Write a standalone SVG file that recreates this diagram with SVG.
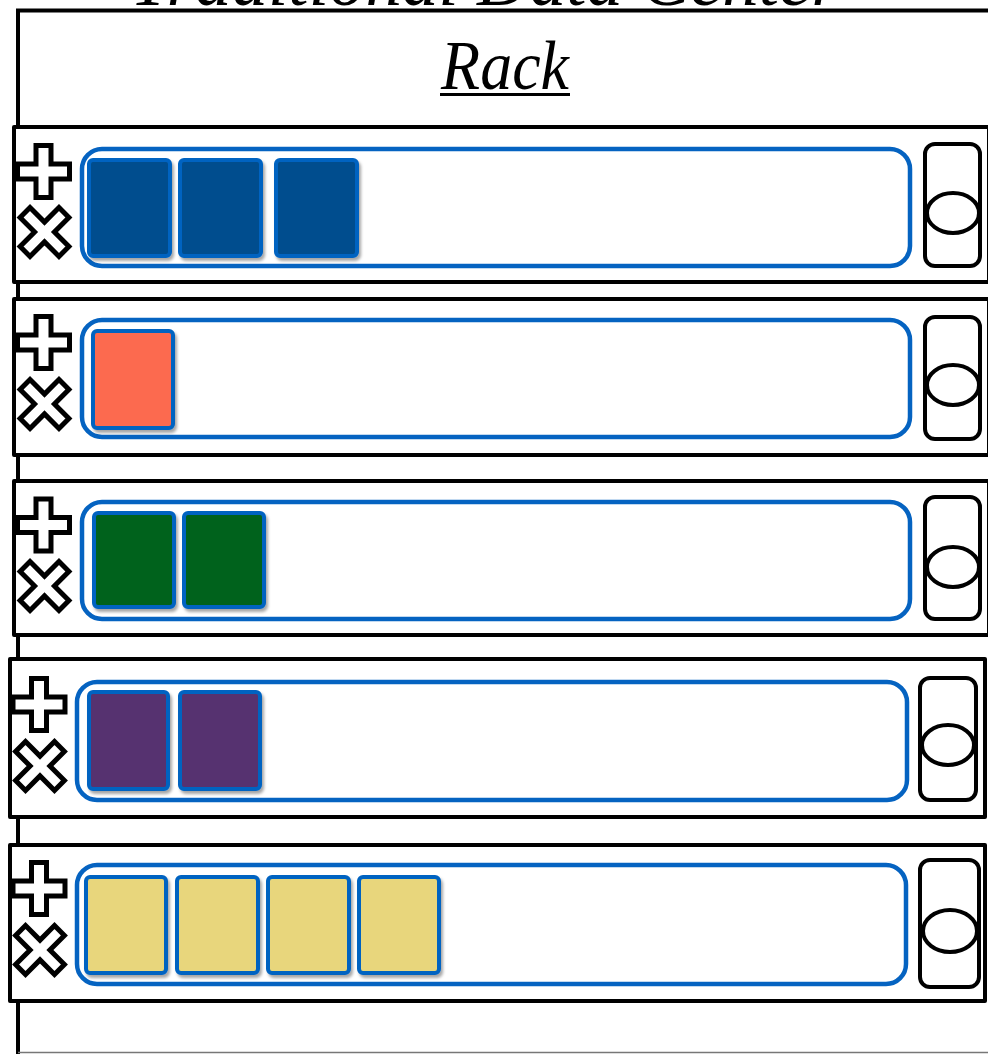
<svg xmlns="http://www.w3.org/2000/svg" width="988" height="1054" viewBox="0 0 988 1054">
<style>
.frame{fill:#fff;stroke:#000;stroke-width:4}
.unit{fill:#fff;stroke:#000;stroke-width:4;stroke-linejoin:round}
.icon{fill:#fff;stroke:#000;stroke-width:5;stroke-linejoin:miter}
.tray{fill:#fff;stroke:#0563C1;stroke-width:4.5}
.srv{stroke:#0563C1;stroke-width:4;filter:url(#sh)}
.handle{fill:#fff;stroke:#000;stroke-width:4}
.title{font-family:"Liberation Serif",serif;font-style:italic;fill:#000}
</style>
<defs>
<filter id="sh" x="-20%" y="-20%" width="140%" height="140%">
<feDropShadow dx="2" dy="3" stdDeviation="1.5" flood-color="#000" flood-opacity="0.35"/>
</filter>
<path id="plus" d="M-7.5,-26 H7.5 V-7.5 H26 V7.5 H7.5 V26 H-7.5 V7.5 H-26 V-7.5 H-7.5 Z"/>
<path id="cross" d="M-7,-27.5 H7 V-7 H27.5 V7 H7 V27.5 H-7 V7 H-27.5 V-7 H-7 Z" transform="rotate(45)"/>
</defs>
<rect width="988" height="1054" fill="#fff"/>
<g id="rack">
<rect class="frame" x="18" y="10.5" width="1000" height="1060"/>
<line x1="18" y1="1052.5" x2="988" y2="1052.5" stroke="#777" stroke-width="1.5"/>
<text class="title" x="485" y="5" font-size="73" text-anchor="middle">Traditional Data Center</text>
<text class="title" transform="translate(505,89) scale(1,1.08)" x="0" y="0" font-size="64" text-anchor="middle">Rack</text>
<line x1="440" y1="94.5" x2="570" y2="94.5" stroke="#000" stroke-width="3"/>
</g>
<g id="unit1" transform="translate(14,127)">
<rect class="unit" x="0" y="0" width="975" height="155"/>
<use href="#plus" class="icon" x="29.5" y="44.5"/>
<g transform="translate(30.5,105)"><use href="#cross" class="icon"/></g>
<rect class="tray" x="68" y="22" width="828" height="117" rx="20"/>
<rect class="srv" x="75" y="33" width="81" height="96" rx="4" fill="#044E8E"/>
<rect class="srv" x="166" y="33" width="81" height="96" rx="4" fill="#044E8E"/>
<rect class="srv" x="262" y="33" width="81" height="96" rx="4" fill="#044E8E"/>
<rect class="handle" x="911" y="17" width="55" height="122" rx="10"/>
<ellipse class="handle" cx="939" cy="86" rx="26" ry="20"/>
</g>
<g id="unit2" transform="translate(14,299)">
<rect class="unit" x="0" y="0" width="975" height="156"/>
<use href="#plus" class="icon" x="29.5" y="43.5"/>
<g transform="translate(30.5,105)"><use href="#cross" class="icon"/></g>
<rect class="tray" x="68" y="21" width="828" height="117" rx="20"/>
<rect class="srv" x="79" y="32" width="80" height="97" rx="4" fill="#FC6A4F"/>
<rect class="handle" x="911" y="18" width="55" height="122" rx="10"/>
<ellipse class="handle" cx="939" cy="86" rx="26" ry="20"/>
</g>
<g id="unit3" transform="translate(14,481)">
<rect class="unit" x="0" y="0" width="975" height="154"/>
<use href="#plus" class="icon" x="29.5" y="44"/>
<g transform="translate(30.5,105)"><use href="#cross" class="icon"/></g>
<rect class="tray" x="68" y="21" width="828" height="117" rx="20"/>
<rect class="srv" x="80" y="32" width="80" height="94" rx="4" fill="#05621F"/>
<rect class="srv" x="170" y="32" width="80" height="94" rx="4" fill="#05621F"/>
<rect class="handle" x="911" y="16" width="55" height="122" rx="10"/>
<ellipse class="handle" cx="939" cy="86" rx="26" ry="20"/>
</g>
<g id="unit4" transform="translate(10,659)">
<rect class="unit" x="0" y="0" width="975" height="158"/>
<use href="#plus" class="icon" x="29" y="45.5"/>
<g transform="translate(30,107)"><use href="#cross" class="icon"/></g>
<rect class="tray" x="67" y="23" width="830" height="118" rx="20"/>
<rect class="srv" x="79" y="33" width="79" height="97" rx="4" fill="#57306F"/>
<rect class="srv" x="170" y="33" width="80" height="97" rx="4" fill="#57306F"/>
<rect class="handle" x="910" y="19" width="56" height="122" rx="10"/>
<ellipse class="handle" cx="938" cy="86" rx="26" ry="20"/>
</g>
<g id="unit5" transform="translate(10,845)">
<rect class="unit" x="0" y="0" width="975" height="156"/>
<use href="#plus" class="icon" x="29" y="43.5"/>
<g transform="translate(30,105)"><use href="#cross" class="icon"/></g>
<rect class="tray" x="67" y="20" width="829" height="119" rx="20"/>
<rect class="srv" x="76" y="32" width="80" height="96" rx="4" fill="#E8D67B"/>
<rect class="srv" x="167" y="32" width="81" height="96" rx="4" fill="#E8D67B"/>
<rect class="srv" x="258" y="32" width="81" height="96" rx="4" fill="#E8D67B"/>
<rect class="srv" x="349" y="32" width="80" height="96" rx="4" fill="#E8D67B"/>
<rect class="handle" x="910" y="15" width="59" height="127" rx="10"/>
<ellipse class="handle" cx="940" cy="86" rx="27" ry="21"/>
</g>
</svg>
